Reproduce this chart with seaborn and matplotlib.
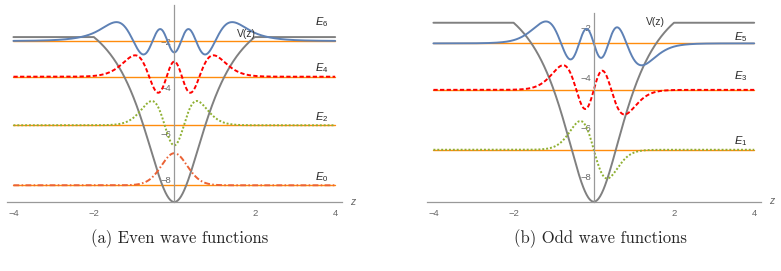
import numpy as np
import pandas as pd
import matplotlib
matplotlib.use("Agg")
import matplotlib.pyplot as plt
import seaborn as sns

# potential: V(z) = -v_depth/(1+z^2) for |z| < z_wall, flat outside
v_depth = 9.0
z_wall = 2.0
alpha = 0.08          # hbar^2/2m, tuned so the levels sit where the picture has them
psi_scale = 1.06

# energy levels
even_levels = [0, 2, 4, 6]
even_energies = [-8.27, -5.65, -3.53, -1.97]
even_label_y = [-7.90, -5.28, -3.16, -1.13]
odd_levels = [1, 3, 5]
odd_energies = [-6.91, -4.50, -2.63]
odd_label_y = [-6.58, -3.95, -2.36]

# colours / dashes per level
blue = (0.368, 0.507, 0.710)
green = (0.560, 0.692, 0.195)
redorange = (0.923, 0.386, 0.209)
red = (1.0, 0.0, 0.0)
orange = (1.0, 0.55, 0.05)
grey = (0.5, 0.5, 0.5)
axis_grey = (0.6, 0.6, 0.6)
level_style = {
    0: (redorange, (0, (3.0, 1.2, 0.8, 1.2))),
    1: (green, (0, (1.0, 1.0))),
    2: (green, (0, (1.0, 1.0))),
    3: (red, (0, (2.2, 1.2))),
    4: (red, (0, (2.2, 1.2))),
    5: (blue, "-"),
    6: (blue, "-"),
}

sns.set_theme(style="white")
plt.rcParams["font.family"] = ["Liberation Sans", "DejaVu Sans"]
plt.rcParams["mathtext.fontset"] = "custom"
plt.rcParams["mathtext.it"] = "Liberation Sans:italic"
plt.rcParams["mathtext.rm"] = "Liberation Sans"


def potential(z):
    zc = np.clip(z, -z_wall, z_wall)
    return -v_depth / (1 + zc ** 2)


# solve -alpha psi'' + V psi = E psi on a grid
zg = np.linspace(-7, 7, 1401)
dz = zg[1] - zg[0]
n = len(zg)
H = np.diag(2 * alpha / dz ** 2 + potential(zg))
H -= alpha / dz ** 2 * (np.eye(n, k=1) + np.eye(n, k=-1))
eig, vecs = np.linalg.eigh(H)
psi = vecs / np.sqrt(dz)
i_tail = np.argmin(np.abs(zg + 2.3))
psi = psi * np.sign(psi[i_tail, :])

show = np.abs(zg) <= 4.0
zs = zg[show]


def draw_panel(ax, levels, energies, label_y, ylim, vz_pos):
    for lev, e in zip(levels, energies):
        sns.lineplot(x=[-4, 4], y=[e, e], ax=ax, color=orange, lw=1.0)
    sns.lineplot(x=zs, y=potential(zs), ax=ax, color=grey, lw=1.4)
    for lev, e, ly in zip(levels, energies, label_y):
        col, ls = level_style[lev]
        sns.lineplot(x=zs, y=e + psi_scale * psi[show, lev], ax=ax, color=col,
                     lw=1.4, linestyle=ls)
        ax.text(3.5, ly, r"$E_{%d}$" % lev, fontsize=8, ha="left", va="center",
                color="0.15")
    ax.text(vz_pos[0], vz_pos[1], "V(z)", fontsize=7.5, ha="left", va="center",
            color="0.2")
    ax.set_xlim(-4.16, 4.17)
    ax.set_ylim(*ylim)
    ax.set_xlabel("")
    ax.set_ylabel("")
    for s in ["top", "right"]:
        ax.spines[s].set_visible(False)
    ax.spines["left"].set_position(("data", 0))
    for s in ["left", "bottom"]:
        ax.spines[s].set_color(axis_grey)
        ax.spines[s].set_linewidth(0.9)
    ax.set_xticks([-4, -2, 2, 4])
    ax.set_xticks(np.arange(-4, 4.01, 0.5), minor=True)
    ax.set_yticks([-8, -6, -4, -2])
    ax.set_yticks(np.arange(-9, ylim[1], 0.5), minor=True)
    ax.tick_params(which="both", direction="in", colors=axis_grey,
                   labelcolor="0.4", labelsize=6.8)
    ax.tick_params(axis="x", pad=5)
    ax.tick_params(axis="y", pad=2)
    ax.tick_params(which="major", length=3.5, width=0.8)
    ax.tick_params(which="minor", length=2, width=0.6)
    ax.text(4.43, ylim[0], "z", fontsize=7.5, style="italic", color="0.4",
            ha="center", va="center", clip_on=False)


fig = plt.figure(figsize=(7.81, 2.71), dpi=100)
ax1 = fig.add_axes([7 / 781, 69 / 271, 335 / 781, 197 / 271])
ax2 = fig.add_axes([427 / 781, 69.3 / 271, 334 / 781, 188.4 / 271])

draw_panel(ax1, even_levels, even_energies, even_label_y, (-9.0, -0.40), (1.56, -1.66))
draw_panel(ax2, odd_levels, odd_energies, odd_label_y, (-8.98, -1.42), (1.30, -1.78))

fig.text(180 / 781, 1 - 239 / 271, "(a) Even wave functions", family="cmr10",
         fontsize=12, ha="center", va="center")
fig.text(601 / 781, 1 - 239 / 271, "(b) Odd wave functions", family="cmr10",
         fontsize=12, ha="center", va="center")

fig.savefig("out.png", dpi=100)
